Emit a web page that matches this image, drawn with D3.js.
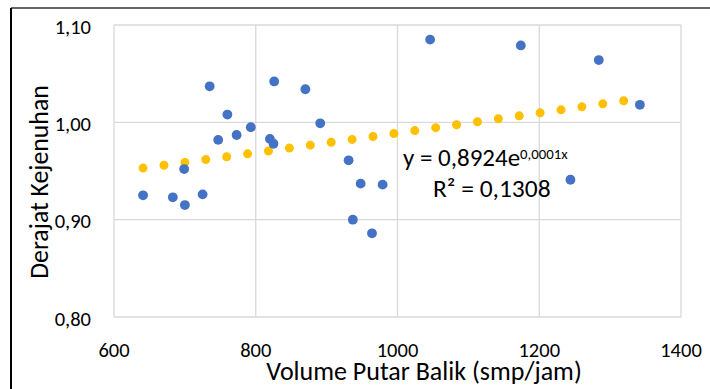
<!DOCTYPE html>
<html>
<head>
<meta charset="utf-8">
<script src="https://cdn.jsdelivr.net/npm/d3@7"></script>
<style>
  body { margin: 0; background: #fff; }
  text { font-family: Calibri, Carlito, Lato, sans-serif; fill: #000; }
</style>
</head>
<body>
<div id="chart"></div>
<script>
// volume putar balik (smp/jam)
const volume = [641, 683, 699, 700, 725, 735, 747, 760, 773, 793, 820, 825, 826,
  870, 891, 931, 937, 948, 964, 979, 1046, 1174, 1244, 1284, 1342];
// derajat kejenuhan
const derajat = [0.925, 0.923, 0.952, 0.915, 0.926, 1.037, 0.982, 1.008, 0.987,
  0.995, 0.983, 0.978, 1.042, 1.034, 0.999, 0.961, 0.900, 0.937, 0.886, 0.936,
  1.085, 1.079, 0.941, 1.064, 1.018];
const xTicks = [600, 800, 1000, 1200, 1400];
const yTicks = [0.8, 0.9, 1.0, 1.1];
const eqMain = "y = 0,8924e";
const eqExp = "0,0001x";
const eqR2 = "R² = 0,1308";

const width = 710;
const height = 389;
const margin = { left: 114, right: 29, top: 25, bottom: 72 };

const locale = d3.formatLocale({ decimal: ",", thousands: ".", grouping: [3], currency: ["", ""] });
const fmtY = locale.format(".2f");

const svg = d3.select("#chart").append("svg")
  .attr("width", width)
  .attr("height", height);

const x = d3.scaleLinear().domain([600, 1400]).range([margin.left, width - margin.right]);
const y = d3.scaleLinear().domain([0.8, 1.1]).range([height - margin.bottom, margin.top]);

// outer frame (left and top edges of the cropped chart)
svg.append("line").attr("x1", 11).attr("x2", width).attr("y1", 8).attr("y2", 8)
  .attr("stroke", "#333").attr("stroke-width", 1.3);
svg.append("line").attr("x1", 11).attr("x2", 11).attr("y1", 8).attr("y2", height)
  .attr("stroke", "#000").attr("stroke-width", 2);

// grid
svg.append("g").selectAll("line").data(xTicks).enter().append("line")
  .attr("x1", d => x(d)).attr("x2", d => x(d))
  .attr("y1", y(1.1)).attr("y2", y(0.8))
  .attr("stroke", "#d9d9d9").attr("stroke-width", 1.3);
svg.append("g").selectAll("line").data(yTicks).enter().append("line")
  .attr("x1", x(600)).attr("x2", x(1400))
  .attr("y1", d => y(d)).attr("y2", d => y(d))
  .attr("stroke", "#d9d9d9").attr("stroke-width", 1.3);

// tick labels
svg.append("g").selectAll("text").data(xTicks).enter().append("text")
  .attr("x", d => x(d)).attr("y", 357)
  .attr("text-anchor", "middle").attr("font-size", 20.5)
  .text(d => d);
svg.append("g").selectAll("text").data(yTicks).enter().append("text")
  .attr("x", 91).attr("y", d => y(d) + 8.5)
  .attr("text-anchor", "end").attr("font-size", 20.5)
  .text(d => fmtY(d));

// axis titles
svg.append("text")
  .attr("x", 424).attr("y", 380)
  .attr("text-anchor", "middle").attr("font-size", 26)
  .text("Volume Putar Balik (smp/jam)");
svg.append("text")
  .attr("transform", "translate(48,182) rotate(-90)")
  .attr("text-anchor", "middle").attr("font-size", 25.8)
  .text("Derajat Kejenuhan");

// exponential trendline (least squares on ln y, like Excel)
const lnY = derajat.map(Math.log);
const mx = d3.mean(volume);
const my = d3.mean(lnY);
const b = d3.sum(volume, (v, i) => (v - mx) * (lnY[i] - my)) / d3.sum(volume, v => (v - mx) ** 2);
const a = Math.exp(my - b * mx);
const xs = d3.range(0, 61).map(i => d3.min(volume) + (d3.max(volume) - d3.min(volume)) * i / 60);
const trend = d3.line().x(d => x(d)).y(d => y(a * Math.exp(b * d)));
svg.append("path")
  .datum(xs)
  .attr("d", trend)
  .attr("fill", "none")
  .attr("stroke", "#ffc000")
  .attr("stroke-width", 9)
  .attr("stroke-linecap", "round")
  .attr("stroke-dasharray", "0 21.1");

// points
svg.append("g").selectAll("circle").data(volume).enter().append("circle")
  .attr("cx", d => x(d))
  .attr("cy", (d, i) => y(derajat[i]))
  .attr("r", 4.9)
  .attr("fill", "#4472c4");

// equation label
const eq = svg.append("text").attr("x", 403).attr("y", 166).attr("font-size", 25);
eq.append("tspan").text(eqMain);
eq.append("tspan").attr("dy", -7).attr("font-size", 14.8).text(eqExp);
svg.append("text").attr("x", 433).attr("y", 197).attr("font-size", 25.5).text(eqR2);
</script>
</body>
</html>
